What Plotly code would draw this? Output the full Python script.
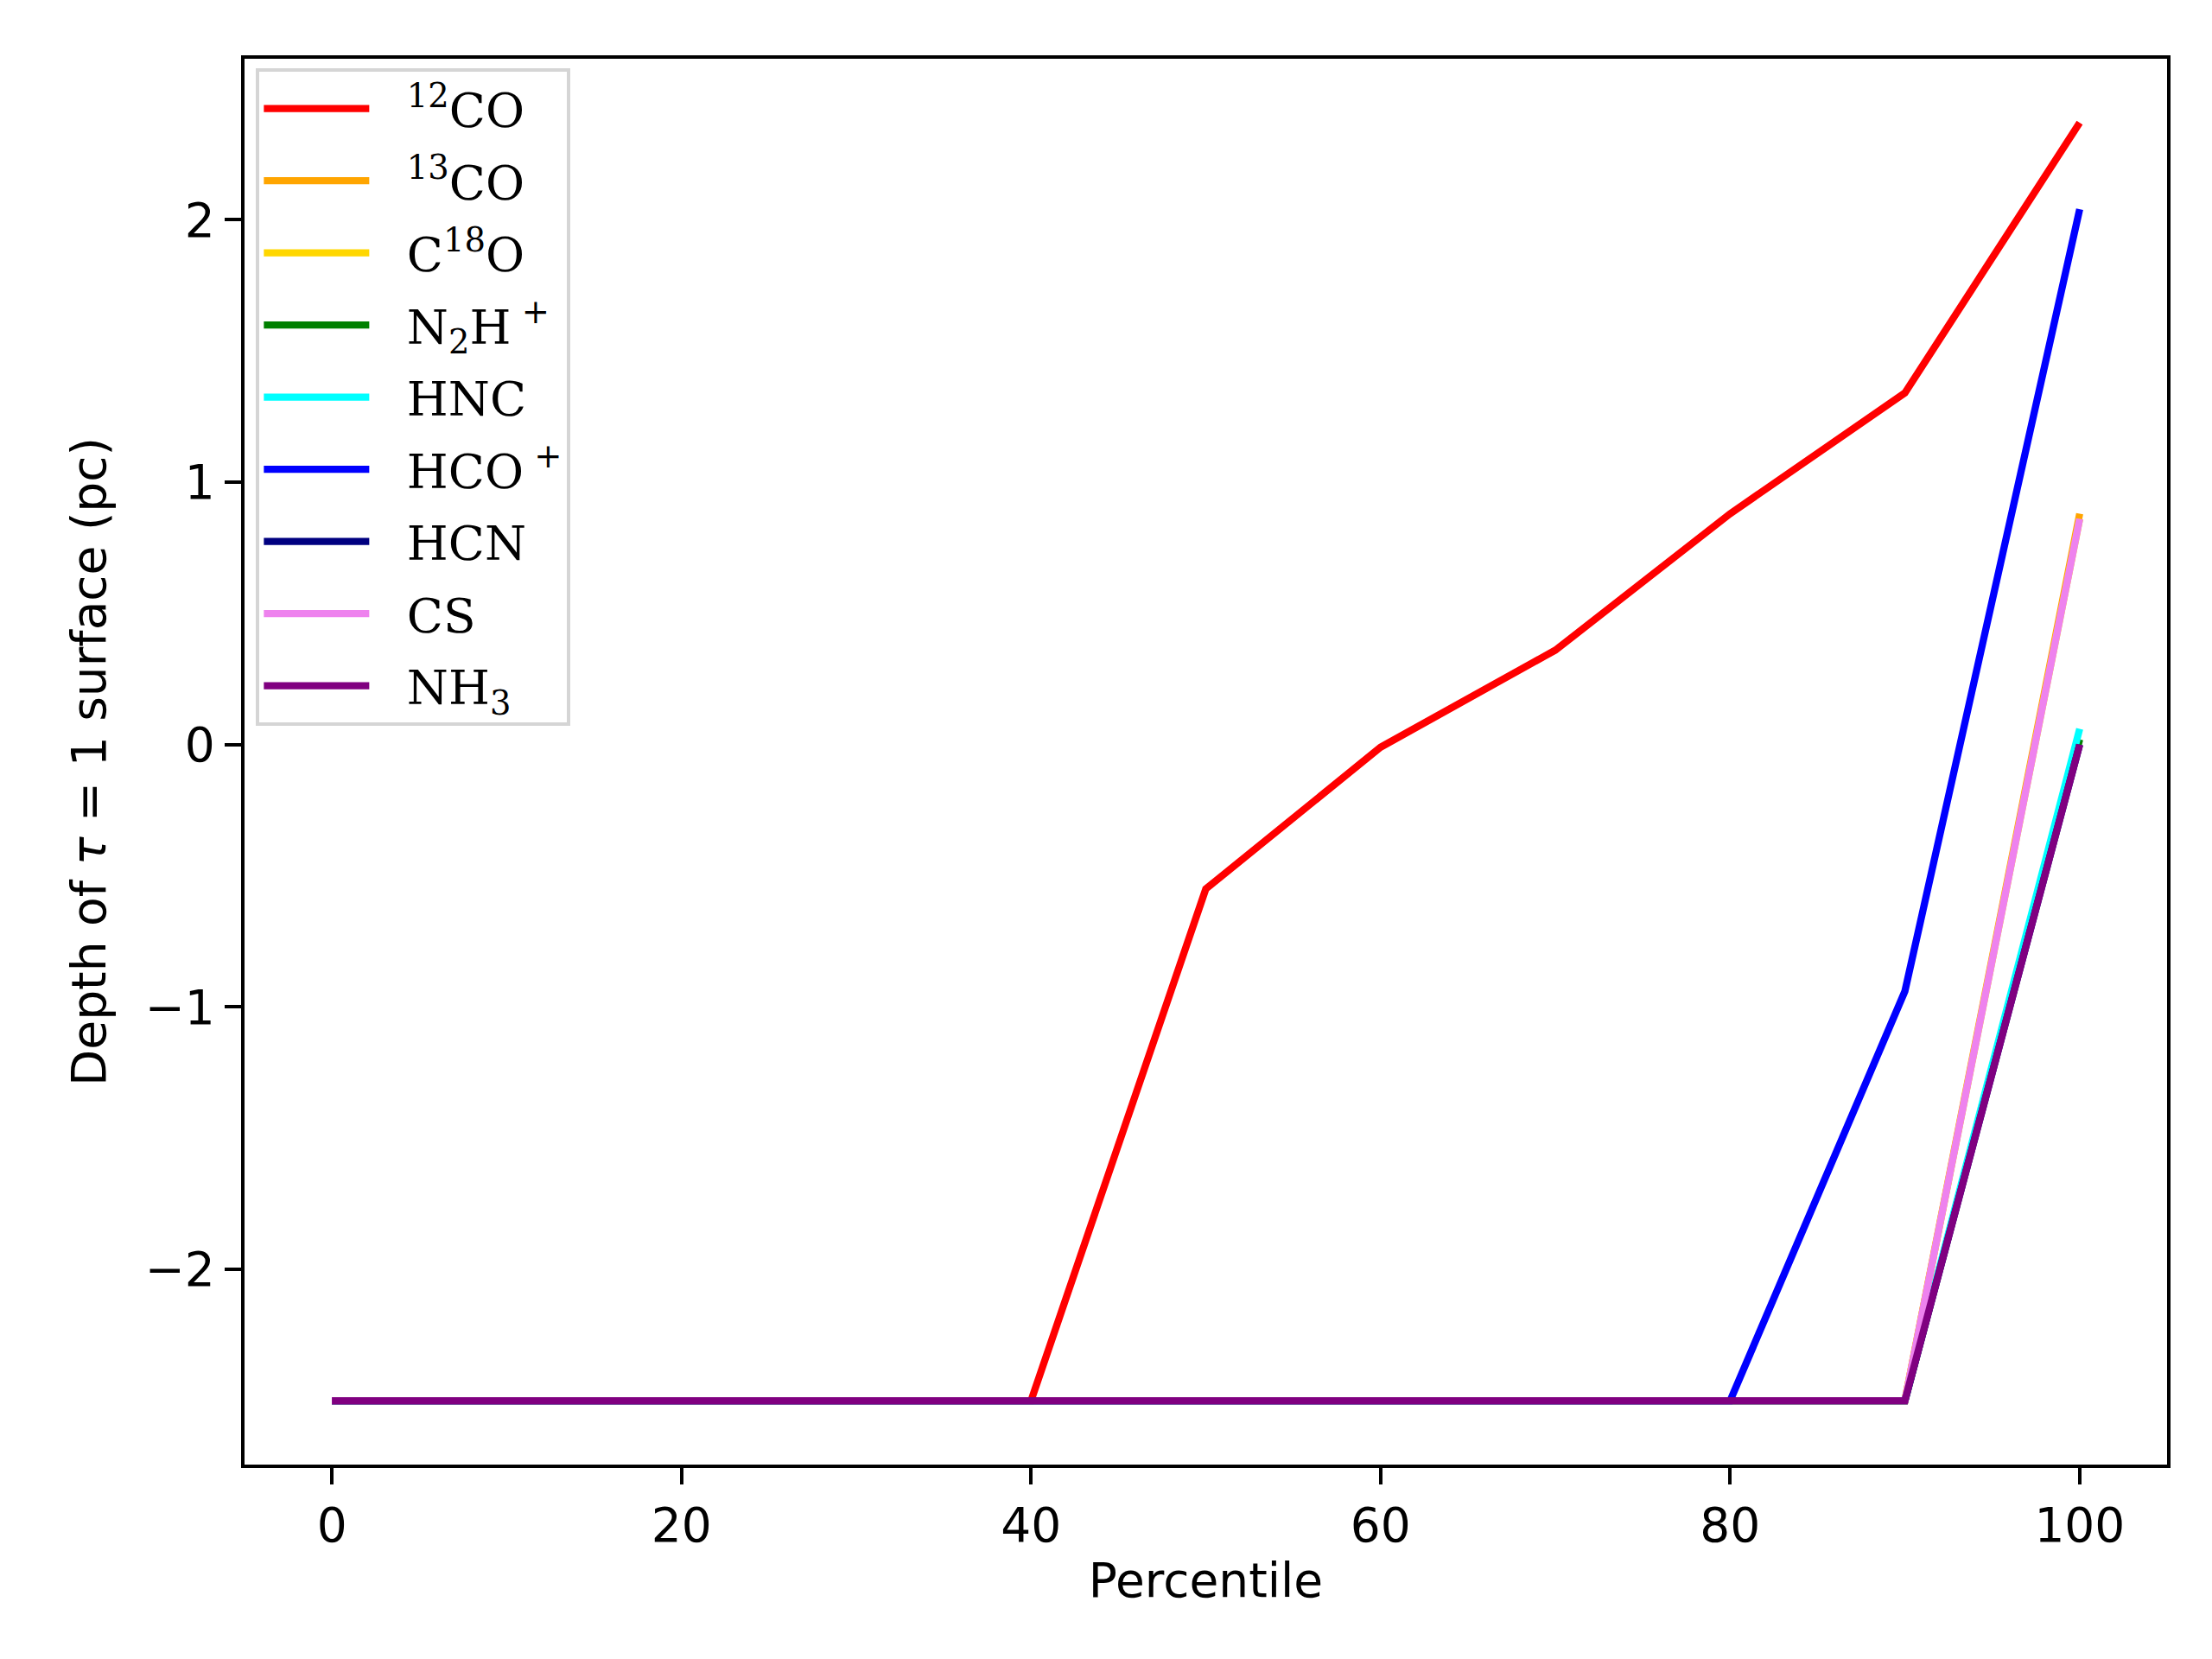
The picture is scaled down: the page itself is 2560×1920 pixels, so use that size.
import plotly.graph_objects as go

percentile = [0, 10, 20, 30, 40, 50, 60, 70, 80, 90, 100]

# depth of tau=1 surface (pc) for each tracer
co12 = [-2.5, -2.5, -2.5, -2.5, -2.5, -0.55, -0.01, 0.36, 0.88, 1.34, 2.37]
co13 = [-2.5, -2.5, -2.5, -2.5, -2.5, -2.5, -2.5, -2.5, -2.5, -2.5, 0.88]
c18o = [-2.5, -2.5, -2.5, -2.5, -2.5, -2.5, -2.5, -2.5, -2.5, -2.5, 0.86]
n2hp = [-2.5, -2.5, -2.5, -2.5, -2.5, -2.5, -2.5, -2.5, -2.5, -2.5, 0.02]
hnc = [-2.5, -2.5, -2.5, -2.5, -2.5, -2.5, -2.5, -2.5, -2.5, -2.5, 0.06]
hcop = [-2.5, -2.5, -2.5, -2.5, -2.5, -2.5, -2.5, -2.5, -2.5, -0.94, 2.04]
hcn = [-2.5, -2.5, -2.5, -2.5, -2.5, -2.5, -2.5, -2.5, -2.5, -2.5, 0.0]
cs = [-2.5, -2.5, -2.5, -2.5, -2.5, -2.5, -2.5, -2.5, -2.5, -2.5, 0.86]
nh3 = [-2.5, -2.5, -2.5, -2.5, -2.5, -2.5, -2.5, -2.5, -2.5, -2.5, 0.0]

names = ['<sup>12</sup>CO', '<sup>13</sup>CO', 'C<sup>18</sup>O', 'N<sub>2</sub>H<sup> +</sup>',
         'HNC', 'HCO<sup> +</sup>', 'HCN', 'CS', 'NH<sub>3</sub>']
colors = ['red', 'orange', 'gold', 'green', 'cyan', 'blue', 'navy', 'violet', 'purple']
series = [co12, co13, c18o, n2hp, hnc, hcop, hcn, cs, nh3]

fig = go.Figure()
for i, (nm, col, ys) in enumerate(zip(names, colors, series)):
    # leading spaces give the matplotlib-like gap between swatch and label
    fig.add_trace(go.Scatter(x=percentile, y=ys, name='\u2002\u2009' + nm, mode='lines',
                             line=dict(color=col, width=8.3), legendgroup=str(i)))

axis_style = dict(showline=True, linecolor='black', linewidth=4.4, mirror=True,
                  ticks='outside', ticklen=19, tickwidth=4.4, tickcolor='black',
                  showgrid=False, zeroline=False,
                  tickfont=dict(family='DejaVu Sans', size=55, color='black'))

fig.update_layout(
    width=2560, height=1920,
    margin=dict(l=275, r=60, t=60, b=233),
    plot_bgcolor='white', paper_bgcolor='white',
    font=dict(family='DejaVu Sans', size=55, color='black'),
    showlegend=True,
    legend=dict(x=0.006, y=0.993, xanchor='left', yanchor='top',
                bgcolor='white', bordercolor='#d5d5d5', borderwidth=4,
                font=dict(family='DejaVu Serif', size=55, color='black'),
                tracegroupgap=9, itemwidth=122),
)
fig.update_xaxes(range=[-5, 105], dtick=20, tick0=0,
                 title=dict(text='Percentile', standoff=14,
                            font=dict(family='DejaVu Sans', size=55)),
                 **axis_style)
fig.update_yaxes(range=[-2.7435, 2.6135], dtick=1, tick0=0,
                 title=dict(text='Depth of <i>τ</i> = 1 surface (pc)', standoff=28,
                            font=dict(family='DejaVu Sans', size=55)),
                 **axis_style)

fig.write_html("out.html")
